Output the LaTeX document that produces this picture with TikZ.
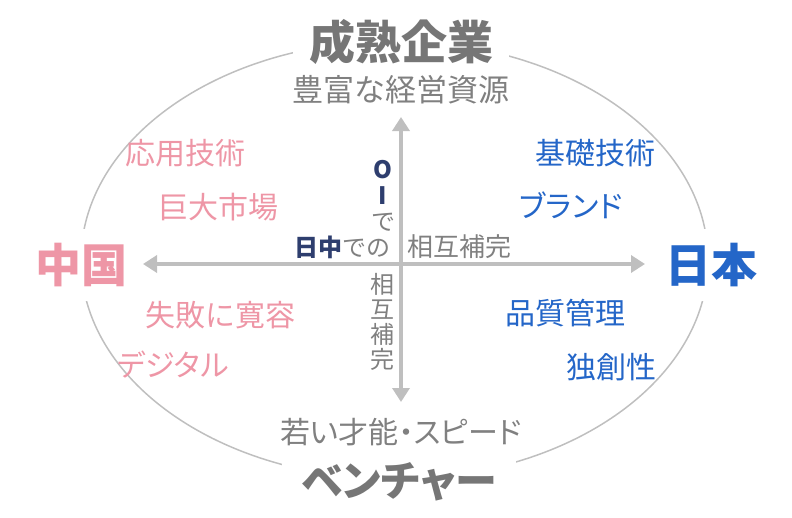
\documentclass[tikz,border=0pt]{standalone}
\usepackage{fontspec}
\setmainfont{Noto Sans CJK JP}
\newfontfamily\paltfont{Noto Sans CJK JP}[RawFeature=+palt]
\usepackage{tikz}
\usetikzlibrary{arrows.meta,positioning}

\definecolor{axisgray}{HTML}{BFBFBF}
\definecolor{titlegray}{HTML}{767676}
\definecolor{textgray}{HTML}{808080}
\definecolor{cnpink}{HTML}{EE96A6}
\definecolor{jpblue}{HTML}{2466C8}
\definecolor{oinavy}{HTML}{2E3E6E}

\tikzset{
  title/.style={font=\fontsize{46}{46}\selectfont\bfseries, text=titlegray, fill=white, inner xsep=16pt, inner ysep=2pt},
  sidetitle/.style={title, inner xsep=2pt, inner ysep=14pt},
  subline/.style={font=\fontsize{31}{31}\selectfont, text=textgray},
  cnitem/.style={font=\fontsize{30}{30}\selectfont, text=cnpink},
  jpitem/.style={font=\fontsize{30}{30}\selectfont, text=jpblue},
  axlabel/.style={font=\fontsize{24}{26}\selectfont, text=textgray, inner sep=0pt},
  axisline/.style={draw=axisgray, line width=4pt, {Triangle[length=14pt,width=17pt]}-{Triangle[length=14pt,width=17pt]}}
}

\begin{document}
\begin{tikzpicture}[x=1pt,y=-1pt]
  \useasboundingbox (0,0) rectangle (792,517);

  % outer ellipse
  \draw[axisgray, line width=1.5pt] (394.5,260) ellipse [x radius=313.5, y radius=219];

  % axes
  \coordinate (axN) at (401,117);
  \coordinate (axS) at (401,402);
  \coordinate (axW) at (143,264);
  \coordinate (axE) at (645,264);
  \draw[axisline] (axW) -- (axE);
  \draw[axisline] (axN) -- (axS);

  % titles on the ellipse
  \node[title] (mature) at (401,42) {成熟企業};
  \node[title, font=\fontsize{42}{42}\paltfont\bfseries, inner xsep=20pt] (venture) at (399,482) {ベンチャー};
  \node[sidetitle, text=cnpink] (china) at (81,265) {中国};
  \node[sidetitle, text=jpblue] (japan) at (711,265) {日本};

  \node[subline] (resource) at (401,90) {豊富な経営資源};
  \node[subline, font=\fontsize{30}{30}\paltfont] (talent) at (401,432) {若い才能・スピード};

  % China side
  \node[cnitem] (applied) at (185,153) {応用技術};
  \node[cnitem] (market) at (218,207) {巨大市場};
  \node[cnitem] (tolerance) at (220,315) {失敗に寛容};
  \node[cnitem] (digital) at (173,365) {\paltfont デジタル};

  % Japan side
  \node[jpitem] (basic) at (595,153) {基礎技術};
  \node[jpitem] (brand) at (571,205) {\paltfont ブランド};
  \node[jpitem] (quality) at (565,313) {品質管理};
  \node[jpitem] (original) at (611,367) {独創性};

  % labels along the axes
  \node[axlabel, anchor=east] (jcdeno) at (391,247) {\textcolor{oinavy}{\bfseries 日中}での};
  \node[axlabel, anchor=west, font=\fontsize{26}{26}\selectfont] (mutualh) at (407,247) {相互補完};
  \node[axlabel, align=center] (oide) at (383,196) {\textcolor{oinavy}{\bfseries O}\\\textcolor{oinavy}{\bfseries I}\\で};
  \node[axlabel, align=center, font=\fontsize{24}{25}\selectfont] (mutualv) at (382,322) {相\\互\\補\\完};
\end{tikzpicture}
\end{document}
